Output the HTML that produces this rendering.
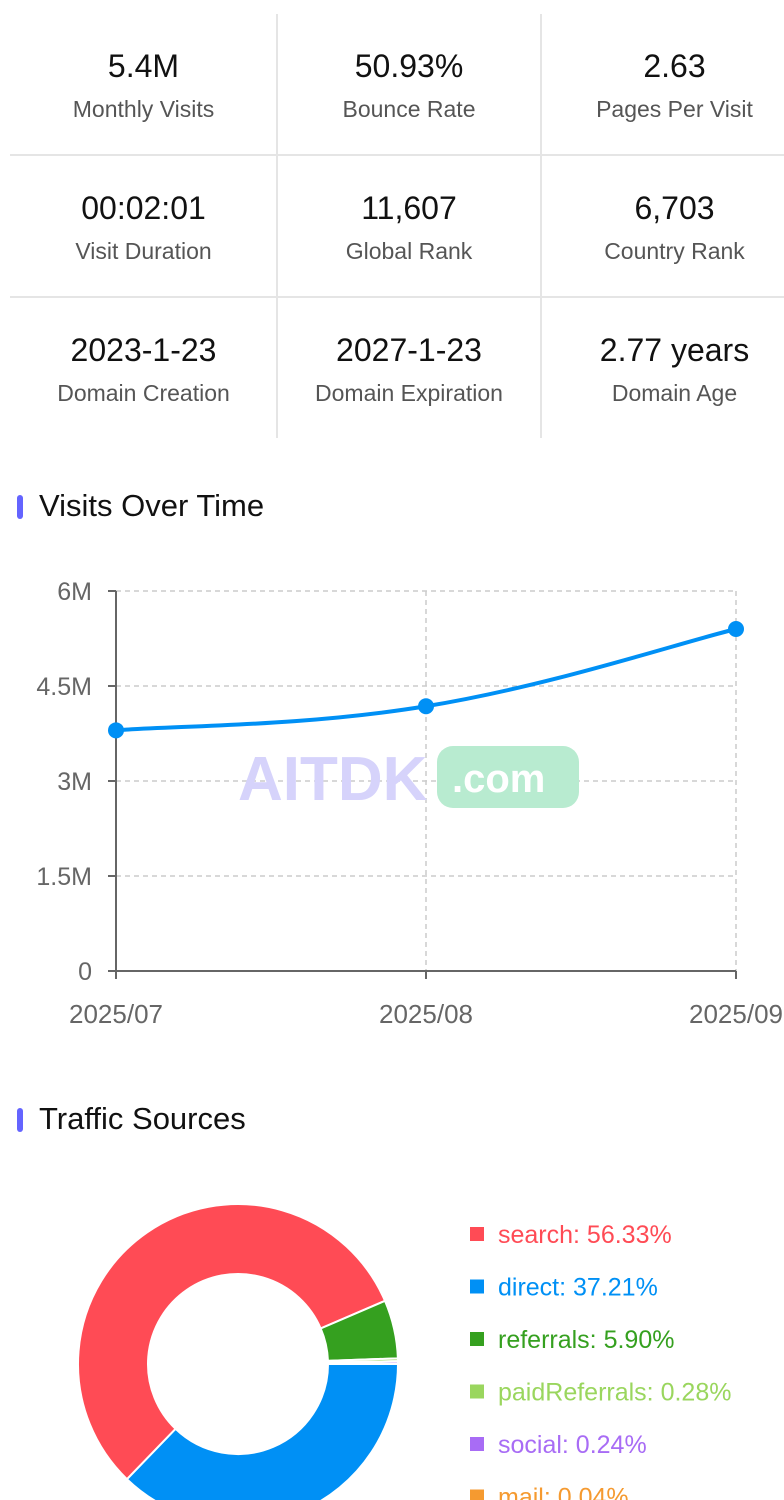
<!DOCTYPE html>
<html><head><meta charset="utf-8"><style>
body{margin:0;width:784px;height:1486px;overflow:hidden;background:#fff;font-family:"Liberation Sans",sans-serif;}
.grid{position:absolute;left:10px;top:14px;width:774px;}
.cell{position:absolute;text-align:center;}
.v{font-size:32px;color:#111;line-height:36px;}
.l{font-size:23px;color:#555;margin-top:12px;line-height:26px;}
.h{position:absolute;left:17px;font-size:31px;color:#111;}
.h .bar{position:absolute;left:0;top:7px;width:6px;height:24px;border-radius:3px;background:#6464ff;}
.h span{margin-left:22px;}
</style></head><body>
<div class="grid">
<svg width="774" height="430" style="position:absolute;left:0;top:0">
<line x1="267" y1="0" x2="267" y2="424" stroke="#e5e5e5" stroke-width="2"/>
<line x1="531" y1="0" x2="531" y2="424" stroke="#e5e5e5" stroke-width="2"/>
<line x1="0" y1="141" x2="774" y2="141" stroke="#e5e5e5" stroke-width="2"/>
<line x1="0" y1="283" x2="774" y2="283" stroke="#e5e5e5" stroke-width="2"/>
</svg>
<div class="cell" style="left:0;width:267px;top:34px"><div class="v">5.4M</div><div class="l">Monthly Visits</div></div>
<div class="cell" style="left:267px;width:264px;top:34px"><div class="v">50.93%</div><div class="l">Bounce Rate</div></div>
<div class="cell" style="left:531px;width:267px;top:34px"><div class="v">2.63</div><div class="l">Pages Per Visit</div></div>
<div class="cell" style="left:0;width:267px;top:176px"><div class="v">00:02:01</div><div class="l">Visit Duration</div></div>
<div class="cell" style="left:267px;width:264px;top:176px"><div class="v">11,607</div><div class="l">Global Rank</div></div>
<div class="cell" style="left:531px;width:267px;top:176px"><div class="v">6,703</div><div class="l">Country Rank</div></div>
<div class="cell" style="left:0;width:267px;top:318px"><div class="v">2023-1-23</div><div class="l">Domain Creation</div></div>
<div class="cell" style="left:267px;width:264px;top:318px"><div class="v">2027-1-23</div><div class="l">Domain Expiration</div></div>
<div class="cell" style="left:531px;width:267px;top:318px"><div class="v">2.77 years</div><div class="l">Domain Age</div></div>
</div>

<div class="h" style="top:488px"><div class="bar"></div><span>Visits Over Time</span></div>
<svg id="line" width="784" height="560" style="position:absolute;left:0;top:480px"></svg>

<div class="h" style="top:1101px"><div class="bar"></div><span>Traffic Sources</span></div>
<svg id="pie" width="784" height="320" style="position:absolute;left:0;top:1180px"></svg>

<script>
const months=["2025/07","2025/08","2025/09"];
const visits=[3.8,4.18,5.4];
const yTicks=[0,1.5,3,4.5,6];
const yTickLabels=["0","1.5M","3M","4.5M","6M"];
const NS="http://www.w3.org/2000/svg";
function mk(p,t,a){const e=document.createElementNS(NS,t);for(const k in a)e.setAttribute(k,a[k]);p.appendChild(e);return e;}
const L=document.getElementById('line');
const X=i=>116+i*310, Y=v=>491-v/6*380;
yTicks.forEach((t,i)=>{
  if(t>0){const g=mk(L,'line',{x1:116,x2:736,y1:Y(t),y2:Y(t),stroke:'#ccc','stroke-dasharray':'5,4','stroke-width':1.5});
  
  }
  mk(L,'line',{x1:108,x2:116,y1:Y(t),y2:Y(t),stroke:'#666','stroke-width':2});
  const tx=mk(L,'text',{x:92,y:Y(t)+9,'text-anchor':'end','font-size':25,fill:'#666'});tx.textContent=yTickLabels[i];
  
  
});
months.forEach((m,i)=>{
  if(i>0)mk(L,'line',{x1:X(i),x2:X(i),y1:Y(6),y2:Y(0),stroke:'#ccc','stroke-dasharray':'5,4','stroke-width':1.5});
  mk(L,'line',{x1:X(i),x2:X(i),y1:Y(0),y2:Y(0)+8,stroke:'#666','stroke-width':2});
  const tx=mk(L,'text',{x:X(i),y:Y(0)+52,'text-anchor':i==2?'end':'middle','font-size':26,fill:'#666'});
  if(i==2)tx.setAttribute('x',783);
  tx.textContent=m;
  
  
});
mk(L,'line',{x1:116,x2:116,y1:Y(6),y2:Y(0),stroke:'#666','stroke-width':2});
mk(L,'line',{x1:116,x2:736,y1:Y(0),y2:Y(0),stroke:'#666','stroke-width':2});
const w=mk(L,'text',{x:238,y:320,'font-size':62,'font-weight':'bold',fill:'#d6d3fb'});w.textContent='AITDK';


mk(L,'rect',{x:437,y:266,width:142,height:62,rx:16,fill:'#b8ebd0'});
const w2=mk(L,'text',{x:452,y:312,'font-size':40,'font-weight':'bold',fill:'#fff'});w2.textContent='.com';
const pts=visits.map((v,i)=>[X(i),Y(v)]);
let d=`M${pts[0][0]},${pts[0][1]}`;
for(let i=0;i<pts.length-1;i++){const p0=pts[Math.max(0,i-1)],p1=pts[i],p2=pts[i+1],p3=pts[Math.min(pts.length-1,i+2)];const s=0.2;
d+=` C${p1[0]+(p2[0]-p0[0])*s},${p1[1]+(p2[1]-p0[1])*s} ${p2[0]-(p3[0]-p1[0])*s},${p2[1]-(p3[1]-p1[1])*s} ${p2[0]},${p2[1]}`;}
const ln=mk(L,'path',{d:d,fill:'none',stroke:'#0090f5','stroke-width':4});


pts.forEach(p=>{const c=mk(L,'circle',{cx:p[0],cy:p[1],r:8,fill:'#0090f5'});

});

const srcNames=["direct","search","referrals","paidReferrals","social","mail"];
const srcValues=[37.21,56.33,5.90,0.28,0.24,0.04];
const srcLegendOrder=["search","direct","referrals","paidReferrals","social","mail"];
const srcColors={search:'#ff4b55',direct:'#0090f5',referrals:'#35a01f',paidReferrals:'#9ad65e',social:'#a86cf5',mail:'#f59a30'};
const P=document.getElementById('pie');
const cx=238,cy=184,R=160,r=90;
const tot=srcValues.reduce((a,b)=>a+b,0);
let a=0;
srcNames.forEach((n,i)=>{
  const a1=a,a2=a+srcValues[i]/tot*2*Math.PI;a=a2;
  const lg=a2-a1>Math.PI?1:0;
  const pt=(rad,t)=>[cx+rad*Math.cos(t),cy+rad*Math.sin(t)];
  const [x1,y1]=pt(R,a1),[x2,y2]=pt(R,a2),[x3,y3]=pt(r,a2),[x4,y4]=pt(r,a1);
  const s=mk(P,'path',{d:`M${x1},${y1} A${R},${R} 0 ${lg} 1 ${x2},${y2} L${x3},${y3} A${r},${r} 0 ${lg} 0 ${x4},${y4} Z`,fill:srcColors[n],stroke:'#fff','stroke-width':2});
  
  
});
srcLegendOrder.forEach((n,i)=>{
  const y=54+i*52.5;
  mk(P,'rect',{x:470,y:y-7,width:14,height:14,fill:srcColors[n]});
  const t=mk(P,'text',{x:498,y:y+9,'font-size':25,fill:srcColors[n]});
  t.textContent=n+': '+srcValues[srcNames.indexOf(n)].toFixed(2)+'%';
  
  
});
</script>
</body></html>
